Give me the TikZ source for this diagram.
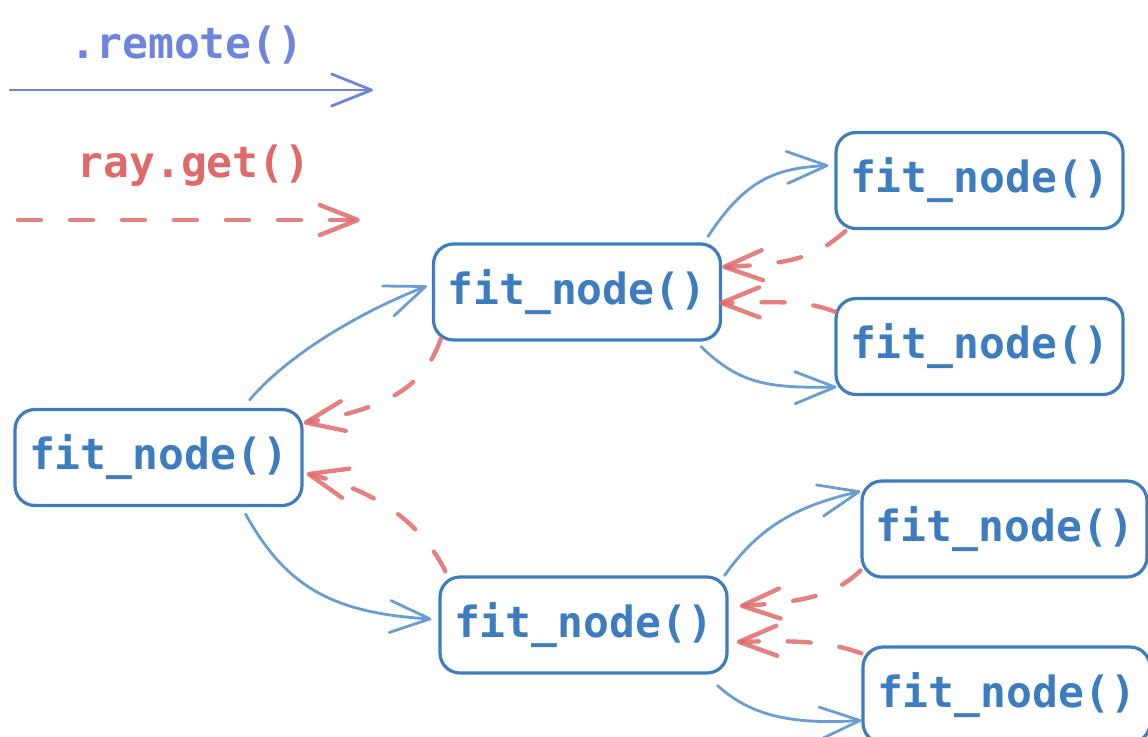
\documentclass[tikz,border=0pt]{standalone}
\usepackage{fontspec}
\setmonofont{DejaVu Sans Mono}
\usetikzlibrary{arrows.meta}
\definecolor{boxblue}{HTML}{3D7DBF}
\definecolor{linkblue}{HTML}{6A9ED2}
\definecolor{legendblue}{HTML}{6F85DB}
\definecolor{getred}{HTML}{E06A6A}
\begin{document}
\begin{tikzpicture}[x=1pt,y=-1pt,
  label text/.style={inner sep=0pt, font=\ttfamily\bfseries\fontsize{43}{50}\selectfont},
  fn/.style={label text, draw=boxblue, line width=3.2pt, rounded corners=20pt,
    minimum width=287pt, minimum height=96pt, text=boxblue},
  call/.style={draw=linkblue, line width=2.8pt, line cap=round,
    -{Straight Barb[length=40pt,width=32pt,round]}},
  fetch/.style={draw=getred, draw opacity=0.85, line width=4.4pt, line cap=round,
    dash pattern=on 23pt off 29pt, -{Straight Barb[length=38pt,width=30pt,round]}},
]
\useasboundingbox (0,0) rectangle (1148,736);

% legend
\node[label text, text=legendblue, anchor=base] (remote) at (187,58) {.remote()};
\coordinate (r0) at (10,90);
\coordinate (r1) at (373,90);
\draw[call, draw=legendblue] (r0) -- (r1);
\node[label text, text=getred, anchor=base] (get) at (194,177) {ray.get()};
\coordinate (g0) at (18,220);
\coordinate (g1) at (360,220);
\draw[fetch] (g0) -- (g1);

% call tree
\node[fn] (A)  at (158.5,457.5) {fit\_node()};
\node[fn] (B)  at (577,292)     {fit\_node()};
\node[fn] (C)  at (583.5,625)   {fit\_node()};
\node[fn] (D1) at (979.5,180.5) {fit\_node()};
\node[fn] (D2) at (979.5,346.5) {fit\_node()};
\node[fn, minimum width=285pt] (E1) at (1004.5,529) {fit\_node()};
\node[fn] (E2) at (1006.5,695)  {fit\_node()};

% root <-> middle level
\draw[call] ([shift={(-54,-8)}]A.north east) .. controls (292,350) and (370,308) .. ([shift={(-5,-6)}]B.west);
\draw[fetch] ([shift={(9,-3)}]B.south west) .. controls (425,385) and (390,408) .. ([shift={(0,15)}]A.north east);
\draw[fetch] ([shift={(7,-4)}]C.north west) .. controls (425,530) and (385,493) .. ([shift={(3,16)}]A.east);
\draw[call] ([shift={(-58,7)}]A.south east) .. controls (285,585) and (330,613) .. ([shift={(-7,-6)}]C.west);

% upper branch
\draw[call] ([shift={(-14,-6)}]B.north east) .. controls (745,180) and (775,168) .. ([shift={(-6,-15)}]D1.west);
\draw[fetch] ([shift={(11,1)}]D1.south west) .. controls (815,258) and (790,264) .. ([shift={(0,-25)}]B.east);
\draw[fetch] ([shift={(1,15)}]D2.north west) .. controls (805,300) and (780,302) .. ([shift={(-3,11)}]B.east);
\draw[call] ([shift={(-21,5)}]B.south east) .. controls (740,385) and (770,388) .. ([shift={(2,-9)}]D2.south west);

% lower branch
\draw[call] ([shift={(-4,0)}]C.north east) .. controls (760,525) and (800,505) .. ([shift={(0,12)}]E1.north west);
\draw[fetch] ([shift={(0,-8)}]E1.south west) .. controls (835,595) and (805,602) .. ([shift={(11,-19)}]C.east);
\draw[fetch] ([shift={(0,8)}]E2.north west) .. controls (830,642) and (800,640) .. ([shift={(8,17)}]C.east);
\draw[call] ([shift={(-11,11)}]C.south east) .. controls (750,715) and (790,725) .. ([shift={(0,75)}]E2.north west);
\end{tikzpicture}
\end{document}
